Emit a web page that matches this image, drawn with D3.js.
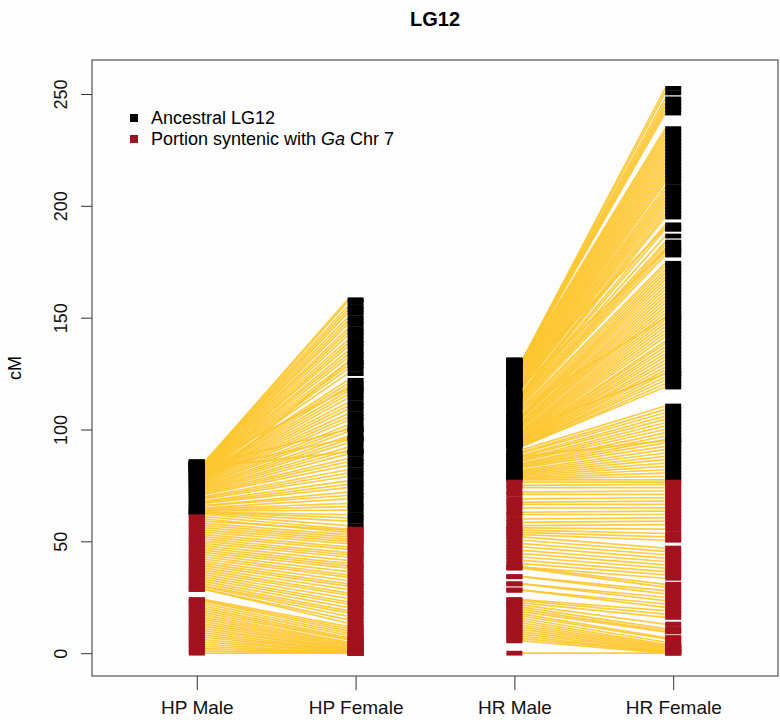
<!DOCTYPE html>
<html lang="en">
<head>
  <meta charset="utf-8">
  <title>LG12</title>
  <script src="https://d3js.org/d3.v7.min.js"></script>
  <style>
    body { margin: 0; background: #fdfdfd; }
    svg { font-family: "Liberation Sans", Arial, Helvetica, sans-serif; }
  </style>
</head>
<body>
<svg id="chart" width="780" height="720"></svg>
<script>
// map names along the x axis
const maps = ["HP Male", "HP Female", "HR Male", "HR Female"];
const yTicks = [0, 50, 100, 150, 200, 250];
const legendLabels = ["Ancestral LG12", "Portion syntenic with Ga Chr 7"];

// links between shared markers: [male cM, female cM]
const hpAncestral = [
  [62.0,57.0],[62.5,59.0],[63.0,60.5],[63.0,62.0],[63.5,64.0],[64.0,65.5],[64.5,67.0],[65.0,69.0],
  [66.0,70.5],[66.0,72.0],[67.0,74.0],[67.5,75.5],[68.0,77.0],[69.0,79.0],[69.5,80.5],[70.0,82.0],
  [71.0,84.0],[71.5,85.5],[72.0,87.0],[72.5,89.0],[73.0,90.5],[73.5,92.0],[74.0,94.0],[74.5,95.5],
  [75.0,97.0],[75.5,99.0],[76.0,100.5],[76.5,102.0],[77.0,104.0],[77.5,105.5],[78.0,107.0],[78.0,109.0],
  [78.5,110.5],[79.0,112.0],[79.0,114.0],[79.5,115.5],[80.0,117.0],[80.0,119.0],[80.5,120.5],[80.5,122.0],
  [81.0,125.0],[81.0,127.0],[81.5,128.5],[82.0,130.0],[82.0,132.0],[82.5,133.5],[82.5,135.0],[83.0,137.0],
  [83.0,138.5],[83.5,140.0],[83.5,142.0],[84.0,143.5],[84.0,145.0],[84.5,147.0],[84.5,148.5],[85.0,150.0],
  [85.0,152.0],[85.0,153.5],[85.5,155.0],[85.5,157.0],[85.5,158.0],
  [84.0,100.0],[83.0,90.0],[76.0,130.0],[85.0,118.0],[82.0,96.0]
];
const hpSyntenic = [
  [61.0,55.5],[60.0,54.0],[59.0,55.0],[58.0,53.0],[57.0,52.0],[56.0,51.0],[55.0,50.0],[54.0,49.0],
  [53.0,47.5],[52.0,46.5],[51.0,45.0],[50.0,44.0],[49.0,43.0],[48.0,41.5],[47.0,40.0],[46.0,39.0],
  [45.0,38.0],[44.0,36.5],[43.0,35.0],[42.0,34.0],[41.0,32.5],[40.0,31.0],[39.0,30.0],[38.0,28.5],
  [37.0,27.0],[36.0,26.0],[35.0,24.5],[34.0,23.0],[33.0,22.0],[32.0,20.5],[31.0,19.0],[30.0,18.0],
  [29.5,16.5],[28.5,15.0],[28.5,13.5],[24.0,12.0],[23.5,11.0],[23.0,10.0],[22.0,9.0],[21.0,8.0],
  [20.0,7.0],[19.0,6.5],[18.0,6.0],[17.0,5.0],[16.0,4.5],[15.0,4.0],[14.0,3.5],[13.0,3.0],
  [12.0,2.5],[11.0,2.0],[10.0,2.0],[9.0,1.5],[8.0,1.0],[7.0,1.0],[6.0,0.5],[5.0,0.5],
  [4.0,0.0],[3.0,0.0],[2.0,0.0],[1.0,0.0],[0.0,0.0]
];
const hrAncestral = [
  [77.5,77.5],[78.0,79.0],[78.5,80.5],[79.0,82.0],[79.5,83.5],[80.0,85.0],[80.5,86.5],[81.0,88.0],
  [81.5,89.5],[82.0,91.0],[83.0,92.5],[83.5,94.0],[84.0,95.5],[84.5,97.0],[85.0,98.5],[86.0,100.0],
  [86.5,101.5],[87.0,103.0],[88.0,104.5],[88.5,106.0],[89.5,107.5],[90.0,109.0],[91.0,110.5],
  [92.5,119.0],[92.5,120.5],[93.0,122.0],[93.0,123.5],[93.0,125.0],[93.5,126.5],[93.5,128.0],[94.0,129.5],
  [94.0,131.0],[94.5,132.5],[94.5,134.0],[95.0,135.5],[95.0,137.0],[95.5,138.5],[96.0,139.5],
  [96.5,141.5],[97.0,143.0],[97.5,144.5],[98.0,146.0],[98.5,147.5],[99.0,149.0],[99.5,150.5],[100.0,152.0],
  [101.0,153.5],[101.5,155.0],[102.0,156.5],[102.5,158.0],[103.0,159.5],[103.5,161.0],[104.0,162.5],[105.0,164.0],
  [105.5,165.5],[106.0,167.0],[106.5,168.5],[107.0,170.0],[108.0,171.5],[109.0,173.0],[110.0,174.3],
  [111.0,178.0],[112.0,179.5],[112.5,181.0],[113.0,182.5],[114.0,183.8],[114.5,186.5],[115.0,189.5],[115.5,191.5],
  [116.0,195.0],[116.5,196.5],[117.0,198.0],[118.5,199.5],[119.0,201.0],[119.5,202.5],[120.0,204.0],[120.5,205.5],
  [121.0,207.0],[121.5,208.5],[122.0,210.5],[122.5,212.0],[123.0,213.5],[123.5,215.0],[124.0,216.5],[124.5,218.0],
  [125.0,219.5],[125.5,221.0],[126.0,222.5],[126.5,224.0],[127.0,225.5],[127.5,227.0],[128.0,228.5],[128.5,230.0],
  [129.0,231.5],[129.5,233.0],[130.0,234.5],[130.0,241.5],[130.5,243.0],[130.5,244.5],[131.0,246.0],[131.0,247.8],
  [131.0,250.5],[131.0,252.5],
  [100.0,125.0],[110.0,150.0],[120.0,180.0],[125.0,190.0],[88.0,95.0]
];
const hrSyntenic = [
  [76.5,76.5],[75.0,75.5],[74.0,74.0],[72.0,72.5],[71.0,71.0],[69.0,69.5],[67.5,68.0],[66.5,66.5],
  [65.0,65.0],[63.0,63.5],[62.0,62.0],[60.0,60.5],[58.5,59.0],[57.0,57.5],[56.0,55.5],[55.0,53.5],
  [54.0,52.0],[53.0,50.5],[52.0,47.0],[50.5,45.5],[49.0,44.0],[47.5,42.5],[46.0,41.0],[44.5,39.5],
  [43.0,38.0],[41.5,36.5],[40.0,35.0],[38.5,33.5],[38.5,30.8],[38.0,29.5],[34.2,28.0],[34.2,26.5],
  [31.0,25.0],[31.0,23.5],[28.2,22.0],[28.2,20.5],[24.0,19.0],[23.5,17.5],[22.5,16.0],[21.5,13.0],
  [20.5,11.0],[19.5,10.0],[18.5,9.5],[17.5,7.0],[16.5,6.5],[15.5,5.0],[14.5,4.0],[13.5,3.5],
  [12.5,3.0],[11.5,2.5],[10.5,2.0],[9.5,1.5],[8.5,1.0],[7.5,0.5],[6.5,0.5],[5.5,0.0],[0.0,0.0]
];

const pairs = [
  {links: hpAncestral, syn: false, left: 0, right: 1},
  {links: hpSyntenic, syn: true, left: 0, right: 1},
  {links: hrAncestral, syn: false, left: 2, right: 3},
  {links: hrSyntenic, syn: true, left: 2, right: 3}
];

const colAnc = "#000000";
const colSyn = "#a3121f";
const colLine = "#fdc62f";

const svg = d3.select("#chart");
const box = {left: 92, right: 778, top: 60, bottom: 676};

const x = d3.scaleLinear().domain([0.34, 4.66]).range([box.left, box.right]);
const y = d3.scaleLinear().domain([-10.2, 265.2]).range([box.bottom, box.top]);
const barW = 16;
const markH = 4.8;

// connecting lines
pairs.forEach(function(p) {
  svg.append("g").selectAll("line")
    .data(p.links)
    .enter()
    .append("line")
    .attr("x1", x(p.left + 1) + barW / 2)
    .attr("x2", x(p.right + 1) - barW / 2)
    .attr("y1", function(d) { return y(d[0]); })
    .attr("y2", function(d) { return y(d[1]); })
    .attr("stroke", colLine)
    .attr("stroke-width", 1.7)
    .attr("stroke-opacity", 0.9);
});

// markers on each map
pairs.forEach(function(p) {
  [0, 1].forEach(function(side) {
    const m = side === 0 ? p.left : p.right;
    svg.append("g").selectAll("rect")
      .data(p.links)
      .enter()
      .append("rect")
      .attr("x", x(m + 1) - barW / 2)
      .attr("width", barW)
      .attr("y", function(d) { return y(d[side]) - markH / 2; })
      .attr("height", markH)
      .attr("fill", p.syn ? colSyn : colAnc);
  });
});

// box
svg.append("rect")
  .attr("x", box.left).attr("y", box.top)
  .attr("width", box.right - box.left).attr("height", box.bottom - box.top)
  .attr("fill", "none").attr("stroke", "#333").attr("stroke-width", 1);

// y axis
const yAxis = svg.append("g")
  .attr("transform", "translate(" + box.left + ",0)")
  .call(d3.axisLeft(y).tickValues(yTicks).tickSize(11).tickPadding(0).tickFormat(d3.format("d")));
yAxis.select(".domain").remove();
yAxis.selectAll(".tick line").attr("stroke", "#333");
yAxis.selectAll(".tick text")
  .attr("transform", "rotate(-90)")
  .attr("x", 0).attr("y", -31)
  .attr("dy", "0.35em")
  .attr("text-anchor", "middle")
  .attr("font-size", 18)
  .attr("font-family", "Liberation Sans, Arial, sans-serif")
  .attr("fill", "#111");

// x axis
const xAxis = svg.append("g")
  .attr("transform", "translate(0," + box.bottom + ")")
  .call(d3.axisBottom(x).tickValues([1, 2, 3, 4]).tickSize(14).tickPadding(11)
    .tickFormat(function(d) { return maps[d - 1]; }));
xAxis.select(".domain").remove();
xAxis.selectAll(".tick line").attr("stroke", "#333");
xAxis.selectAll(".tick text")
  .attr("font-size", 19)
  .attr("font-family", "Liberation Sans, Arial, sans-serif")
  .attr("fill", "#111");

// labels
svg.append("text")
  .attr("x", (box.left + box.right) / 2).attr("y", 26)
  .attr("text-anchor", "middle")
  .attr("font-size", 20).attr("font-weight", "bold")
  .text("LG12");

svg.append("text")
  .attr("transform", "translate(21," + (box.top + box.bottom) / 2 + ") rotate(-90)")
  .attr("text-anchor", "middle")
  .attr("font-size", 18)
  .text("cM");

// legend
const legend = svg.append("g").attr("transform", "translate(130,118)");
[colAnc, colSyn].forEach(function(c, i) {
  legend.append("rect")
    .attr("x", 0).attr("y", i * 21 - 4)
    .attr("width", 8).attr("height", 8)
    .attr("fill", c);
});
legend.append("text")
  .attr("x", 21).attr("y", 6)
  .attr("font-size", 18)
  .text(legendLabels[0]);
const t2 = legend.append("text")
  .attr("x", 21).attr("y", 27)
  .attr("font-size", 18);
t2.append("tspan").text("Portion syntenic with ");
t2.append("tspan").attr("font-style", "italic").text("Ga");
t2.append("tspan").text(" Chr 7");
</script>
</body>
</html>
